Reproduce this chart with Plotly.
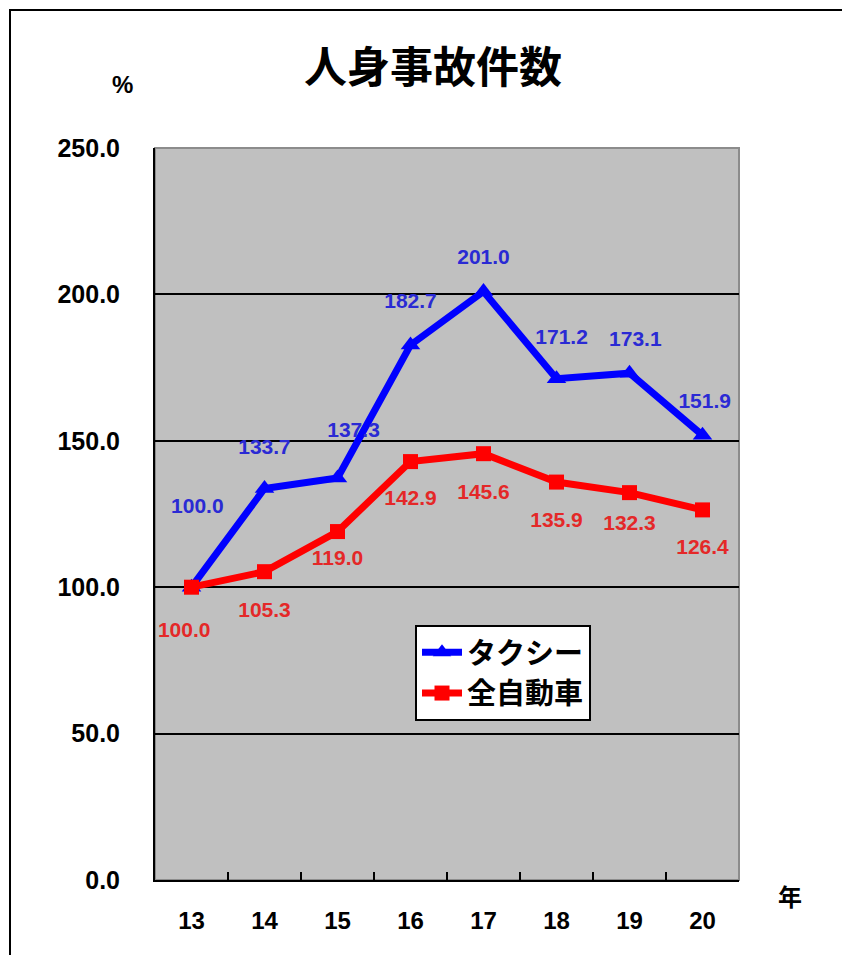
import plotly.graph_objects as go

years = ["13", "14", "15", "16", "17", "18", "19", "20"]
taxi = [100.0, 133.7, 137.3, 182.7, 201.0, 171.2, 173.1, 151.9]
all_cars = [100.0, 105.3, 119.0, 142.9, 145.6, 135.9, 132.3, 126.4]
y_ticks = [0, 50, 100, 150, 200, 250]

OFF = 8  # browser page offset
PAGE_W, PAGE_H = 850, 955
W, H = PAGE_W - OFF, PAGE_H - OFF
# plot area in page pixels
PX0, PX1, PY0, PY1 = 155, 739, 148, 880
ML, MT = PX0 - OFF, PY0 - OFF
MR, MB = W - (PX1 - OFF), H - (PY1 - OFF)
PW, PH = PX1 - PX0, PY1 - PY0
YMAX = 250.0
px_per_unit = PH / YMAX


def px(xp):
    return (xp - PX0) / PW


def py(yp):
    return (PY1 - yp) / PH


# label offsets (style)
taxi_dx = [0.08, 0, 0.22, 0, 0, 0.07, 0.08, 0.03]
taxi_dy = [79, 40, 46, 42, 33, 40, 32, 32]
car_dx = [-0.1, 0, 0, 0, 0, 0, 0, 0]
car_dy = [45, 40, 28, 38, 40, 40, 32, 39]

idx = list(range(len(years)))
LBL_FONT = "Liberation Sans, Arial, sans-serif"
CJK = "Noto Sans CJK JP, sans-serif"

fig = go.Figure()
fig.add_trace(go.Scatter(
    x=[i + d for i, d in zip(idx, taxi_dx)],
    y=[v + d / px_per_unit for v, d in zip(taxi, taxi_dy)],
    text=[f"{v:.1f}" for v in taxi], mode="text", xaxis="x2",
    textfont=dict(family=LBL_FONT, size=21, color="#2a2ad4", weight="bold"),
    showlegend=False, hoverinfo="skip"))
fig.add_trace(go.Scatter(
    x=[i + d for i, d in zip(idx, car_dx)],
    y=[v - d / px_per_unit for v, d in zip(all_cars, car_dy)],
    text=[f"{v:.1f}" for v in all_cars], mode="text", xaxis="x2",
    textfont=dict(family=LBL_FONT, size=21, color="#e42828", weight="bold"),
    showlegend=False, hoverinfo="skip"))

fig.add_trace(go.Scatter(
    x=years, y=taxi, name="タクシー", mode="lines+markers",
    line=dict(color="#0000ff", width=7),
    marker=dict(symbol="triangle-up", size=17, color="#0000ff")))
fig.add_trace(go.Scatter(
    x=years, y=all_cars, name="全自動車", mode="lines+markers",
    line=dict(color="#ff0000", width=7),
    marker=dict(symbol="square", size=15, color="#ff0000")))

fig.update_layout(
    width=W, height=H,
    margin=dict(l=ML, r=MR, t=MT, b=MB, autoexpand=False),
    paper_bgcolor="white", plot_bgcolor="#c0c0c0",
    title=dict(text="人身事故件数", x=px(433), xref="paper",
               xanchor="center", y=1 - (68 - OFF) / H, yanchor="middle",
               font=dict(family=CJK, size=43, color="black", weight="bold")),
    xaxis=dict(type="category", range=[-0.5, 7.5], showgrid=False,
               showline=True, linecolor="black", linewidth=2,
               ticks="inside", tickson="boundaries", ticklen=8,
               tickcolor="black", tickwidth=1.5,
               ticklabelstandoff=18,
               tickfont=dict(family=LBL_FONT, size=24, color="black", weight="bold")),
    xaxis2=dict(overlaying="x", range=[-0.5, 7.5], visible=False),
    yaxis=dict(range=[0, YMAX], tickvals=y_ticks, tickformat=".1f",
               showgrid=True, gridcolor="black", gridwidth=1.5,
               showline=True, linecolor="black", linewidth=2,
               zeroline=False, ticks="", ticklabelstandoff=28,
               tickfont=dict(family=LBL_FONT, size=25, color="black", weight="bold")),
    legend=dict(x=px(415), y=py(625), xanchor="left", yanchor="top",
                bgcolor="white", bordercolor="black", borderwidth=2,
                font=dict(family=CJK, size=29, color="black", weight="bold"),
                itemwidth=40, tracegroupgap=0),
    showlegend=True,
    shapes=[
        dict(type="rect", xref="paper", yref="paper", x0=0, x1=1, y0=0, y1=1,
             line=dict(color="#8c8c8c", width=2), layer="below"),
        dict(type="rect", xref="paper", yref="paper",
             x0=px(10), x1=px(PAGE_W + 10), y0=py(PAGE_H + 10), y1=py(10),
             line=dict(color="black", width=2)),
    ],
    annotations=[
        dict(text="%", xref="paper", yref="paper", x=px(122), y=py(85),
             showarrow=False, xanchor="center", yanchor="middle",
             font=dict(family=LBL_FONT, size=24, color="black", weight="bold")),
        dict(text="年", xref="paper", yref="paper", x=px(790), y=py(895),
             showarrow=False, xanchor="center", yanchor="middle",
             font=dict(family=CJK, size=24, color="black", weight="bold")),
    ],
)

fig.write_html("out.html")
